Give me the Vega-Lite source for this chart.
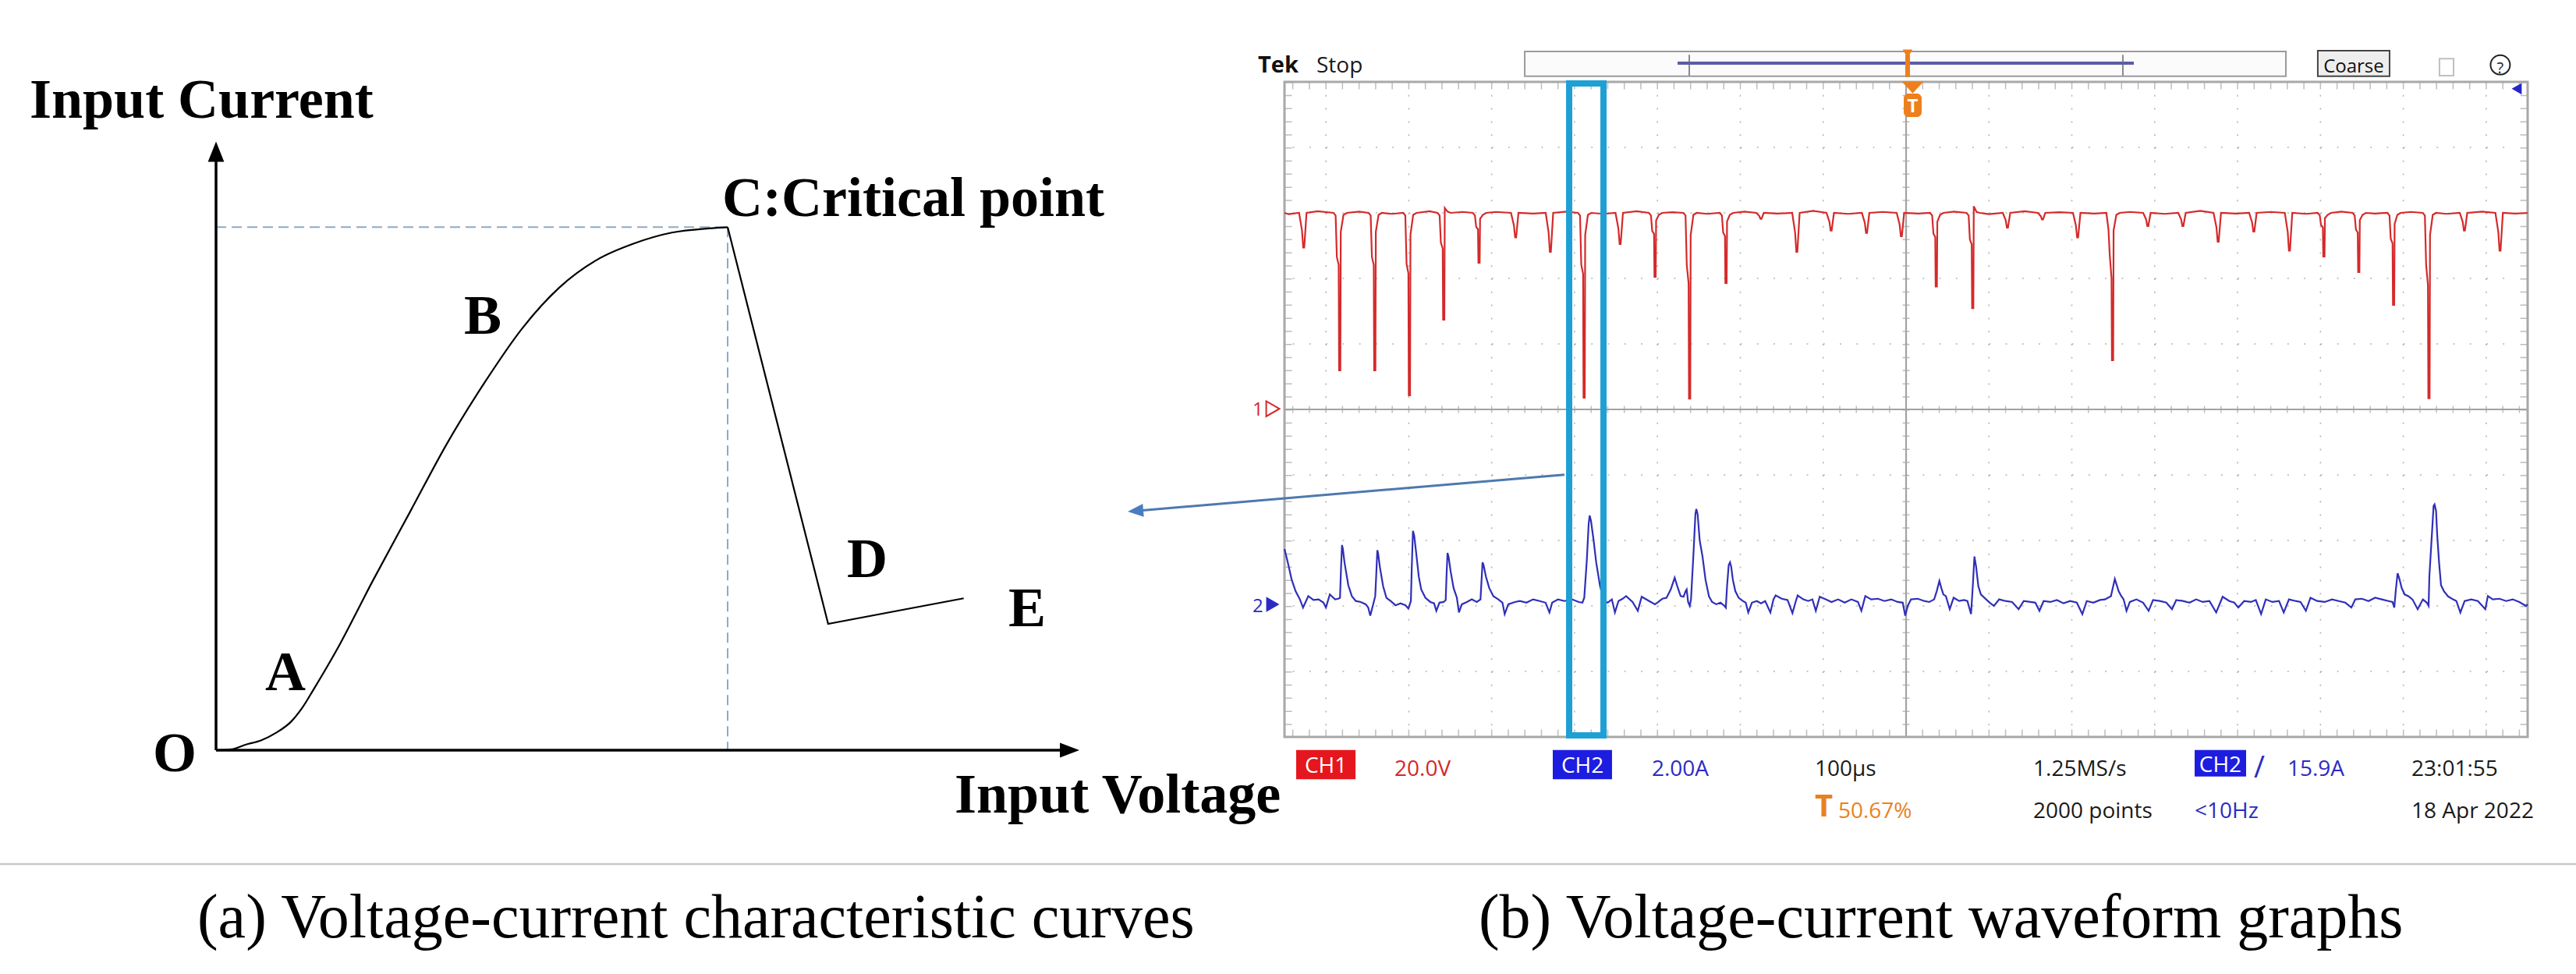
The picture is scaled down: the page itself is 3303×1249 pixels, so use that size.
{
"$schema":"https://vega.github.io/schema/vega-lite/v6.json",
"width":3303,"height":1249,"padding":0,"autosize":{"type":"none"},
"background":"#ffffff",
"config":{"view":{"stroke":null},"axis":{"disable":true},"legend":{"disable":true}},
"datasets":{
"sep":[{"i":-18.74}],
"curve":[{"v":0,"i":0},{"v":1.8,"i":0.15},{"v":3.4,"i":0.9},{"v":5.2,"i":1.6},{"v":7,"i":2.9},{"v":8.7,"i":4.7},{"v":10,"i":7},{"v":11.3,"i":10},{"v":13.9,"i":16.3},{"v":18.2,"i":28},{"v":22.5,"i":39.3},{"v":26.8,"i":50.6},{"v":31.1,"i":60.5},{"v":35.5,"i":69.5},{"v":39.8,"i":76.2},{"v":44.1,"i":80.7},{"v":48.4,"i":83.4},{"v":52.8,"i":85.2},{"v":57.1,"i":85.9},{"v":59.26,"i":86.1}],
"tail":[{"v":59.26,"i":86.1},{"v":70.9,"i":20.8},{"v":86.6,"i":25}],
"dashes":[{"v":0,"i":86.1,"v2":59.26,"i2":86.1},{"v":59.26,"i":86.1,"v2":59.26,"i2":0}],
"axesL":[{"v":0,"i":0,"v2":0,"i2":98},{"v":0,"i":0,"v2":98.5,"i2":0}],
"arrowY":[{"v":0,"i":100.2}],
"arrowX":[{"v":100,"i":0}],
"labelsL":[{"v":-21.59,"i":104.11,"label":"Input Current"},{"v":58.63,"i":87.93,"label":"C:Critical point"},{"v":-7.32,"i":-3.47,"label":"O"},{"v":5.69,"i":9.88,"label":"A"},{"v":28.73,"i":68.55,"label":"B"},{"v":73.08,"i":28.5,"label":"D"},{"v":91.78,"i":20.41,"label":"E"},{"v":85.55,"i":-10.27,"label":"Input Voltage"}],
"captionA":[{"v":-2.17,"i":-30.81,"label":"(a) Voltage-current characteristic curves"}],
"gridV":[{"t":-700,"v":100,"v2":-100},{"t":-600,"v":100,"v2":-100},{"t":-500,"v":100,"v2":-100},{"t":-400,"v":100,"v2":-100},{"t":-300,"v":100,"v2":-100},{"t":-200,"v":100,"v2":-100},{"t":-100,"v":100,"v2":-100},{"t":100,"v":100,"v2":-100},{"t":200,"v":100,"v2":-100},{"t":300,"v":100,"v2":-100},{"t":400,"v":100,"v2":-100},{"t":500,"v":100,"v2":-100},{"t":600,"v":100,"v2":-100},{"t":700,"v":100,"v2":-100}],
"gridH":[{"t":-740,"t2":740,"v":-80},{"t":-740,"t2":740,"v":-60},{"t":-740,"t2":740,"v":-40},{"t":-740,"t2":740,"v":-20},{"t":-740,"t2":740,"v":20},{"t":-740,"t2":740,"v":40},{"t":-740,"t2":740,"v":60},{"t":-740,"t2":740,"v":80}],
"centerLines":[{"t":0,"t2":0,"v":100,"v2":-100},{"t":-750,"t2":750,"v":0,"v2":0}],
"ticksH":[{"t":-740.7,"t2":740.7,"v":0,"v2":0},{"t":-740.7,"t2":740.7,"v":98.8,"v2":98.8},{"t":-740.7,"t2":740.7,"v":-98.8,"v2":-98.8}],
"ticksV":[{"t":0,"t2":0,"v":100,"v2":-100},{"t":-745.3,"t2":-745.3,"v":100,"v2":-100},{"t":745.3,"t2":745.3,"v":100,"v2":-100}],
"frame":[{"t":-750,"t2":750,"v":-100,"v2":100}],
"topBar":[{"t":-460.1,"t2":458.3,"v":109.3,"v2":101.7}],
"navy":[{"t":-275.7,"t2":274.8,"v":105.7,"v2":105.7}],
"brackets":[{"t":-261.6,"t2":-261.6,"v":108.3,"v2":101.9},{"t":261.6,"t2":261.6,"v":108.3,"v2":101.9}],
"orangeStem":[{"t":1.9,"t2":1.9,"v":108.3,"v2":101.5}],
"orangeTop":[{"t":1.9,"v":108.6}],
"trigTri":[{"t":8,"v":98.3}],
"trigBox":[{"t":-2.8,"t2":18.8,"v":96.4,"v2":89.3}],
"trigText":[{"t":8,"v":90.6,"label":"T"}],
"coarseBox":[{"t":496.8,"t2":583.4,"v":109.5,"v2":101.7}],
"coarseText":[{"t":540.1,"v":102.9,"label":"Coarse"}],
"shareIcon":[{"t":643.6,"t2":660.6,"v":107.1,"v2":101.9}],
"helpCircle":[{"t":717,"v":105.2}],
"helpText":[{"t":717,"v":102.7,"label":"?"}],
"blueMark":[{"t":736.8,"v":97.9}],
"tek":[{"t":-782,"v":102.9,"label":"Tek"}],
"scopeText":[{"t":-711.4,"v":102.9,"label":"Stop","ch":"k"},{"t":-617.3,"v":-111.9,"label":"20.0V","ch":"r"},{"t":-306.8,"v":-111.9,"label":"2.00A","ch":"b"},{"t":-110.1,"v":-111.9,"label":"100µs","ch":"k"},{"t":153.4,"v":-111.9,"label":"1.25MS/s","ch":"k"},{"t":460.1,"v":-111.9,"label":"15.9A","ch":"b"},{"t":609.8,"v":-111.9,"label":"23:01:55","ch":"k"},{"t":-81.9,"v":-124.8,"label":"50.67%","ch":"o"},{"t":153.4,"v":-124.8,"label":"2000 points","ch":"k"},{"t":348.2,"v":-124.8,"label":"<10Hz","ch":"b"},{"t":609.8,"v":-124.8,"label":"18 Apr 2022","ch":"k"}],
"bigT":[{"t":-110.1,"v":-124.3,"label":"T"}],
"slope":[{"t":419.7,"v":-112.4,"label":"/"}],
"boxes":[{"t":-735.9,"t2":-664.3,"v":-104,"v2":-112.9,"ch":"r"},{"t":-426.3,"t2":-354.8,"v":-104,"v2":-112.9,"ch":"b"},{"t":348.2,"t2":410.3,"v":-104,"v2":-112.1,"ch":"b"}],
"boxLabels":[{"t":-700.1,"v":-111,"label":"CH1"},{"t":-390.5,"v":-111,"label":"CH2"},{"t":379.2,"v":-110.6,"label":"CH2"}],
"ch1Label":[{"t":-788.5,"v":-1.9,"label":"1"}],
"ch1Mark":[{"t":-764.1,"v":0.2}],
"captionB":[{"t":-515.7,"v":-161.2,"label":"(b) Voltage-current waveform graphs"}],
"ch2Label":[{"t":-788.5,"a":-0.19,"label":"2"}],
"ch2Mark":[{"t":-764.1,"a":0.05}],
"cyanBox":[{"t":-406.5,"t2":-365.1,"v":-99.5,"v2":99.5}],
"arrowLine":[{"t":-935.3,"v":-31.12,"t2":-412.2,"v2":-19.95}],
"arrowHead":[{"t":-939.1,"v":-31.2}],
"ch1":[{"t":-750,"v":60},{"t":-745,"v":59.6},
{"t":-732.4,"v":60},{"t":-728.9,"v":54.7},{"t":-727.4,"v":49.4},{"t":-726.2,"v":49.4},{"t":-723.4,"v":60},
{"t":-710,"v":60.5},
{"t":-690.8,"v":60},{"t":-688.3,"v":59.2},{"t":-686.8,"v":46.5},{"t":-684.6,"v":44.1},{"t":-684.1,"v":11.9},{"t":-682.6,"v":11.9},{"t":-682.1,"v":54.2},{"t":-678.8,"v":59.4},{"t":-674.8,"v":60},
{"t":-660,"v":60.4},
{"t":-648.5,"v":60},{"t":-646,"v":59.2},{"t":-644.5,"v":46.5},{"t":-642.3,"v":44.1},{"t":-641.8,"v":11.9},{"t":-640.3,"v":11.9},{"t":-639.8,"v":54.2},{"t":-636.5,"v":59.4},{"t":-632.5,"v":60},
{"t":-620,"v":59.7},
{"t":-606.7,"v":60},{"t":-604.2,"v":59.2},{"t":-602.7,"v":44.4},{"t":-600.5,"v":41.6},{"t":-600,"v":4.3},{"t":-598.5,"v":4.3},{"t":-598,"v":53.3},{"t":-594.7,"v":59.4},{"t":-590.7,"v":60},
{"t":-575,"v":60.5},
{"t":-565.3,"v":60},{"t":-562.8,"v":59.2},{"t":-561.3,"v":50.9},{"t":-559.1,"v":49.2},{"t":-558.6,"v":27.4},{"t":-557.1,"v":27.4},{"t":-556.6,"v":61.5},{"t":-553.3,"v":60.4},{"t":-549.3,"v":60},
{"t":-535,"v":60.3},
{"t":-522.7,"v":60},{"t":-520.2,"v":59.2},{"t":-518.7,"v":55.7},{"t":-516.5,"v":55},{"t":-516,"v":44.8},{"t":-514.5,"v":44.8},{"t":-514,"v":58.2},{"t":-510.7,"v":59.4},{"t":-506.7,"v":60},
{"t":-495,"v":60.3},
{"t":-476.7,"v":60},{"t":-473.2,"v":56.2},{"t":-471.7,"v":52.5},{"t":-470.5,"v":52.5},{"t":-467.7,"v":60},
{"t":-450,"v":59.8},
{"t":-434.8,"v":60},{"t":-431.3,"v":54},{"t":-429.8,"v":48.1},{"t":-428.6,"v":48.1},{"t":-425.8,"v":60},
{"t":-410,"v":60.4},
{"t":-395.9,"v":60},{"t":-393.4,"v":59.2},{"t":-391.9,"v":44.2},{"t":-389.7,"v":41.4},{"t":-389.2,"v":3.6},{"t":-387.7,"v":3.6},{"t":-387.2,"v":53.2},{"t":-383.9,"v":59.4},{"t":-379.9,"v":60},
{"t":-365,"v":59.7},
{"t":-350.6,"v":60},{"t":-347.1,"v":55.2},{"t":-345.6,"v":50.5},{"t":-344.4,"v":50.5},{"t":-341.6,"v":60},
{"t":-325,"v":60.5},
{"t":-310.3,"v":60},{"t":-307.8,"v":59.2},{"t":-306.3,"v":54.5},{"t":-304.1,"v":53.6},{"t":-303.6,"v":40.5},{"t":-302.1,"v":40.5},{"t":-301.6,"v":57.7},{"t":-298.3,"v":59.4},{"t":-294.3,"v":60},
{"t":-282,"v":60.2},
{"t":-268.6,"v":60},{"t":-266.1,"v":59.2},{"t":-264.6,"v":44.1},{"t":-262.4,"v":38.5},{"t":-261.9,"v":3.3},{"t":-260.4,"v":3.3},{"t":-259.9,"v":53.2},{"t":-256.6,"v":59.4},{"t":-252.6,"v":60},
{"t":-240,"v":59.7},
{"t":-224.7,"v":60},{"t":-222.2,"v":59.2},{"t":-220.7,"v":54},{"t":-218.5,"v":52.9},{"t":-218,"v":38.6},{"t":-216.5,"v":38.6},{"t":-216,"v":57.4},{"t":-212.7,"v":59.4},{"t":-208.7,"v":60},
{"t":-195,"v":60.4},
{"t":-180.7,"v":60},{"t":-177.2,"v":59.1},{"t":-175.7,"v":58.2},{"t":-174.5,"v":58.2},{"t":-171.7,"v":60},
{"t":-155,"v":59.8},
{"t":-137.4,"v":60},{"t":-133.9,"v":54},{"t":-132.4,"v":48.1},{"t":-131.2,"v":48.1},{"t":-128.4,"v":60},
{"t":-112,"v":60.6},
{"t":-96,"v":60},{"t":-92.5,"v":57.3},{"t":-91,"v":54.6},{"t":-89.8,"v":54.6},{"t":-87,"v":60},
{"t":-70,"v":59.7},
{"t":-53.3,"v":60},{"t":-49.8,"v":57},{"t":-48.3,"v":53.9},{"t":-47.1,"v":53.9},{"t":-44.3,"v":60},
{"t":-28,"v":60.3},
{"t":-11.3,"v":60},{"t":-7.8,"v":56.5},{"t":-6.3,"v":52.9},{"t":-5.1,"v":52.9},{"t":-2.3,"v":60},
{"t":15,"v":59.8},
{"t":29,"v":60},{"t":31.5,"v":59.2},{"t":33,"v":53.7},{"t":35.2,"v":52.6},{"t":35.7,"v":37.5},{"t":37.2,"v":37.5},{"t":37.7,"v":57.3},{"t":41,"v":59.4},{"t":45,"v":60},
{"t":58,"v":60.4},
{"t":73,"v":60},{"t":75.5,"v":59.2},{"t":77,"v":51.9},{"t":79.2,"v":50.4},{"t":79.7,"v":30.9},{"t":81.2,"v":30.9},{"t":81.7,"v":62},{"t":85,"v":60.3},{"t":89,"v":60},
{"t":100,"v":59.6},
{"t":116.7,"v":60},{"t":120.2,"v":57.8},{"t":121.7,"v":55.5},{"t":122.9,"v":55.5},{"t":125.7,"v":60},
{"t":143,"v":60.5},
{"t":159,"v":60},{"t":162.5,"v":59},{"t":164,"v":58},{"t":165.2,"v":58},{"t":168,"v":60},
{"t":185,"v":60.2},
{"t":201.4,"v":60},{"t":204.9,"v":56.2},{"t":206.4,"v":52.5},{"t":207.6,"v":52.5},{"t":210.4,"v":60},
{"t":227,"v":59.8},
{"t":241.7,"v":60},{"t":244.2,"v":55},{"t":245.7,"v":47.4},{"t":247.9,"v":40},{"t":248.4,"v":15},{"t":249.9,"v":15},{"t":250.4,"v":54.6},{"t":253.7,"v":59.4},{"t":257.7,"v":60},
{"t":270,"v":60.3},
{"t":286.1,"v":60},{"t":289.6,"v":58},{"t":291.1,"v":56},{"t":292.3,"v":56},{"t":295.1,"v":60},
{"t":312,"v":59.7},
{"t":328.4,"v":60},{"t":331.9,"v":58},{"t":333.4,"v":56},{"t":334.6,"v":56},{"t":337.4,"v":60},
{"t":355,"v":60.6},
{"t":371,"v":60},{"t":374.5,"v":55.6},{"t":376,"v":51.2},{"t":377.2,"v":51.2},{"t":380,"v":60},
{"t":398,"v":59.8},
{"t":414,"v":60},{"t":417.5,"v":57.1},{"t":419,"v":54.3},{"t":420.2,"v":54.3},{"t":423,"v":60},
{"t":440,"v":60.3},
{"t":457,"v":60},{"t":460.5,"v":54.2},{"t":462,"v":48.5},{"t":463.2,"v":48.5},{"t":466,"v":60},
{"t":483,"v":59.7},
{"t":496.7,"v":60},{"t":499.2,"v":59.2},{"t":500.7,"v":56.3},{"t":502.9,"v":55.6},{"t":503.4,"v":46.7},{"t":504.9,"v":46.7},{"t":505.4,"v":58.4},{"t":508.7,"v":59.4},{"t":512.7,"v":60},
{"t":525,"v":60.4},
{"t":538.8,"v":60},{"t":541.3,"v":59.2},{"t":542.8,"v":54.9},{"t":545,"v":54},{"t":545.5,"v":41.9},{"t":547,"v":41.9},{"t":547.5,"v":57.8},{"t":550.8,"v":59.4},{"t":554.8,"v":60},
{"t":566,"v":59.8},
{"t":580.8,"v":60},{"t":583.3,"v":59.2},{"t":584.8,"v":52.1},{"t":587,"v":50.7},{"t":587.5,"v":31.9},{"t":589,"v":31.9},{"t":589.5,"v":56.6},{"t":592.8,"v":59.4},{"t":596.8,"v":60},
{"t":609,"v":60.3},
{"t":623.5,"v":60},{"t":626,"v":59.2},{"t":627.5,"v":44.2},{"t":629.7,"v":38},{"t":630.2,"v":3.4},{"t":631.7,"v":3.4},{"t":632.2,"v":53.2},{"t":635.5,"v":59.4},{"t":639.5,"v":60},
{"t":652,"v":59.7},
{"t":668.1,"v":60},{"t":671.6,"v":57.3},{"t":673.1,"v":54.6},{"t":674.3,"v":54.6},{"t":677.1,"v":60},
{"t":695,"v":60.4},
{"t":711.1,"v":60},{"t":714.6,"v":54.2},{"t":716.1,"v":48.5},{"t":717.3,"v":48.5},{"t":720.1,"v":60},
{"t":735,"v":59.8},{"t":750,"v":60}],
"ch2":[{"t":-750,"a":1.74},{"t":-746,"a":1.33},{"t":-741.3,"a":0.8},{"t":-736.6,"a":0.45},{"t":-731.4,"a":0.2},{"t":-727.6,"a":-0.05},{"t":-724,"a":0.15},{"t":-721.3,"a":0.3},{"t":-715,"a":0.18},{"t":-708.8,"a":0.2},{"t":-703,"a":0.1},{"t":-700,"a":-0.05},{"t":-695.3,"a":0.35},{"t":-689,"a":0.2},{"t":-685,"a":0.22},{"t":-683,"a":0.25},{"t":-682,"a":1.0},{"t":-680.6,"a":1.86},{"t":-679.6,"a":1.75},{"t":-677.6,"a":1.33},{"t":-673,"a":0.63},{"t":-668.6,"a":0.29},{"t":-664,"a":0.15},{"t":-658,"a":0.12},{"t":-652,"a":0.05},{"t":-649,"a":-0.05},{"t":-646.5,"a":-0.3},{"t":-643,"a":0.05},{"t":-640.5,"a":0.3},{"t":-639.2,"a":1.0},{"t":-638,"a":1.7},{"t":-637,"a":1.6},{"t":-635,"a":1.2},{"t":-631,"a":0.6},{"t":-627,"a":0.25},{"t":-622,"a":0.15},{"t":-616,"a":0.02},{"t":-610,"a":0.08},{"t":-604,"a":0.02},{"t":-600.5,"a":-0.08},{"t":-597.5,"a":0.15},{"t":-596.5,"a":1.1},{"t":-595,"a":2.29},{"t":-593.5,"a":2.15},{"t":-591,"a":1.6},{"t":-588,"a":0.9},{"t":-585,"a":0.5},{"t":-580,"a":0.25},{"t":-574,"a":0.12},{"t":-569.5,"a":0.08},{"t":-566.8,"a":-0.15},{"t":-563,"a":0.1},{"t":-558,"a":0.12},{"t":-555.5,"a":0.18},{"t":-554.5,"a":0.9},{"t":-553.3,"a":1.62},{"t":-552,"a":1.5},{"t":-549.5,"a":1.05},{"t":-546,"a":0.55},{"t":-542,"a":0.25},{"t":-539.5,"a":-0.2},{"t":-536,"a":0.05},{"t":-530,"a":0.12},{"t":-524,"a":0.2},{"t":-518,"a":0.12},{"t":-513.5,"a":0.2},{"t":-512.2,"a":0.8},{"t":-511,"a":1.33},{"t":-509.8,"a":1.25},{"t":-507,"a":0.9},{"t":-503,"a":0.55},{"t":-498,"a":0.3},{"t":-492,"a":0.2},{"t":-487,"a":0.1},{"t":-484.3,"a":-0.25},{"t":-480,"a":0.05},{"t":-472,"a":0.12},{"t":-466,"a":0.15},{"t":-458,"a":0.1},{"t":-450,"a":0.2},{"t":-442,"a":0.15},{"t":-435,"a":0.1},{"t":-430.3,"a":-0.2},{"t":-427,"a":0.1},{"t":-420,"a":0.2},{"t":-412,"a":0.15},{"t":-403,"a":0.2},{"t":-395,"a":0.12},{"t":-390.5,"a":0.1},{"t":-388.3,"a":0.25},{"t":-385.2,"a":1.4},{"t":-383,"a":2.5},{"t":-381.8,"a":2.76},{"t":-380.2,"a":2.6},{"t":-377,"a":2.0},{"t":-373.9,"a":1.33},{"t":-369.2,"a":0.6},{"t":-364.5,"a":0.15},{"t":-360,"a":0.1},{"t":-355,"a":0.2},{"t":-351.3,"a":-0.2},{"t":-347,"a":0.15},{"t":-342,"a":0.22},{"t":-337.8,"a":0.3},{"t":-330,"a":0.12},{"t":-323.7,"a":-0.15},{"t":-319,"a":0.28},{"t":-310,"a":0.15},{"t":-303,"a":0.05},{"t":-300.2,"a":0.1},{"t":-294,"a":0.22},{"t":-289,"a":0.25},{"t":-284,"a":0.5},{"t":-279.2,"a":0.86},{"t":-276,"a":0.6},{"t":-272,"a":0.3},{"t":-268.5,"a":0.28},{"t":-266,"a":0.45},{"t":-264.7,"a":0.5},{"t":-263,"a":0.12},{"t":-261,"a":0.0},{"t":-259.5,"a":0.2},{"t":-256.5,"a":1.6},{"t":-254.2,"a":2.8},{"t":-253.1,"a":2.96},{"t":-251.5,"a":2.8},{"t":-249,"a":2.0},{"t":-245.6,"a":1.51},{"t":-242,"a":0.8},{"t":-237.8,"a":0.29},{"t":-234,"a":0.12},{"t":-229,"a":0.05},{"t":-224,"a":0.1},{"t":-219,"a":0.0},{"t":-217.5,"a":-0.05},{"t":-216,"a":0.6},{"t":-214,"a":1.25},{"t":-212.4,"a":1.33},{"t":-211,"a":1.2},{"t":-209,"a":0.8},{"t":-206,"a":0.45},{"t":-202,"a":0.25},{"t":-197,"a":0.15},{"t":-193.5,"a":0.1},{"t":-190.4,"a":-0.2},{"t":-186,"a":0.1},{"t":-180,"a":0.15},{"t":-175,"a":0.08},{"t":-170,"a":0.15},{"t":-163.7,"a":-0.2},{"t":-160,"a":0.2},{"t":-157.4,"a":0.32},{"t":-150,"a":0.22},{"t":-143,"a":0.18},{"t":-137.1,"a":-0.22},{"t":-133,"a":0.15},{"t":-130.8,"a":0.32},{"t":-124,"a":0.2},{"t":-118,"a":0.15},{"t":-113,"a":0.2},{"t":-108.9,"a":-0.15},{"t":-104.2,"a":0.28},{"t":-97,"a":0.2},{"t":-90,"a":0.12},{"t":-82,"a":0.2},{"t":-74,"a":0.1},{"t":-66,"a":0.2},{"t":-58,"a":0.12},{"t":-53.9,"a":-0.15},{"t":-49.2,"a":0.3},{"t":-42,"a":0.2},{"t":-34,"a":0.22},{"t":-26,"a":0.15},{"t":-18,"a":0.2},{"t":-10,"a":0.12},{"t":-4,"a":0.1},{"t":-1,"a":-0.3},{"t":2,"a":0.0},{"t":6,"a":0.2},{"t":14,"a":0.22},{"t":22,"a":0.15},{"t":28,"a":0.12},{"t":33.9,"a":0.2},{"t":37,"a":0.45},{"t":40.2,"a":0.76},{"t":42.5,"a":0.55},{"t":45,"a":0.35},{"t":48,"a":0.3},{"t":52.7,"a":-0.1},{"t":57.4,"a":0.25},{"t":64,"a":0.15},{"t":70,"a":0.18},{"t":74,"a":0.15},{"t":78.4,"a":-0.25},{"t":80.5,"a":0.6},{"t":82.5,"a":1.51},{"t":84.5,"a":1.2},{"t":87.2,"a":0.6},{"t":90.3,"a":0.35},{"t":96.6,"a":0.2},{"t":101,"a":0.1},{"t":106.1,"a":0.0},{"t":112.3,"a":0.2},{"t":120,"a":0.15},{"t":128,"a":0.12},{"t":135.8,"a":-0.1},{"t":142,"a":0.15},{"t":150,"a":0.12},{"t":156,"a":0.1},{"t":160.9,"a":-0.15},{"t":166,"a":0.15},{"t":174,"a":0.12},{"t":182,"a":0.18},{"t":190,"a":0.08},{"t":198,"a":0.15},{"t":206,"a":0.1},{"t":212.7,"a":-0.25},{"t":218,"a":0.15},{"t":226,"a":0.1},{"t":234,"a":0.18},{"t":240,"a":0.2},{"t":247.2,"a":0.3},{"t":251.9,"a":0.82},{"t":254,"a":0.65},{"t":256.5,"a":0.45},{"t":259.7,"a":0.3},{"t":262.5,"a":0.2},{"t":266,"a":-0.15},{"t":270,"a":0.12},{"t":278,"a":0.2},{"t":286,"a":0.1},{"t":292.7,"a":-0.15},{"t":298,"a":0.18},{"t":306,"a":0.15},{"t":314,"a":0.1},{"t":320.9,"a":-0.1},{"t":326,"a":0.18},{"t":334,"a":0.15},{"t":342,"a":0.1},{"t":350,"a":0.2},{"t":358,"a":0.12},{"t":366,"a":0.15},{"t":374.2,"a":-0.2},{"t":382,"a":0.28},{"t":390,"a":0.15},{"t":396,"a":0.1},{"t":400.9,"a":-0.05},{"t":408,"a":0.15},{"t":416,"a":0.12},{"t":422,"a":0.18},{"t":428.4,"a":-0.25},{"t":434,"a":0.2},{"t":442,"a":0.12},{"t":450,"a":0.15},{"t":455.7,"a":-0.2},{"t":462,"a":0.2},{"t":470,"a":0.15},{"t":476,"a":0.12},{"t":482.4,"a":-0.15},{"t":488,"a":0.25},{"t":496,"a":0.15},{"t":505,"a":0.12},{"t":514,"a":0.2},{"t":522,"a":0.15},{"t":530,"a":0.1},{"t":537.3,"a":-0.05},{"t":542,"a":0.2},{"t":550,"a":0.22},{"t":558,"a":0.15},{"t":566,"a":0.25},{"t":574,"a":0.2},{"t":582,"a":0.15},{"t":587,"a":0.12},{"t":589.1,"a":-0.05},{"t":591,"a":0.5},{"t":593.1,"a":1.0},{"t":595,"a":0.85},{"t":598,"a":0.55},{"t":601.6,"a":0.35},{"t":606,"a":0.3},{"t":611,"a":0.2},{"t":617.3,"a":-0.1},{"t":623.6,"a":0.2},{"t":628.3,"a":0.1},{"t":630.5,"a":0.0},{"t":631.4,"a":0.9},{"t":634.5,"a":2.2},{"t":636.5,"a":3.05},{"t":637.7,"a":3.1},{"t":639.5,"a":2.9},{"t":640.8,"a":2.2},{"t":643.1,"a":1.33},{"t":645.5,"a":0.63},{"t":649,"a":0.45},{"t":654,"a":0.29},{"t":660,"a":0.2},{"t":664,"a":0.15},{"t":668.8,"a":-0.2},{"t":674,"a":0.15},{"t":682,"a":0.2},{"t":690,"a":0.15},{"t":698.9,"a":-0.1},{"t":702,"a":0.3},{"t":708,"a":0.2},{"t":716,"a":0.22},{"t":724,"a":0.15},{"t":732,"a":0.2},{"t":740,"a":0.12},{"t":748,"a":0.0},{"t":750,"a":0.05}]
},
"layer":[
{"data":{"name":"sep"},"mark":{"type":"rule","color":"#c8c8c8","strokeWidth":2.5},
 "encoding":{"y":{"field":"i","type":"quantitative","scale":{"domain":[0,100],"range":[962,183],"nice":false,"zero":false}}}},
{"encoding":{"x":{"field":"v","type":"quantitative","scale":{"domain":[0,100],"range":[277,1384],"nice":false,"zero":false}},
             "y":{"field":"i","type":"quantitative","scale":{"domain":[0,100],"range":[962,183],"nice":false,"zero":false}}},
 "layer":[
  {"data":{"name":"dashes"},"mark":{"type":"rule","color":"#8eaac6","strokeWidth":2,"strokeDash":[13,7]},"encoding":{"x2":{"field":"v2"},"y2":{"field":"i2"}}},
  {"data":{"name":"axesL"},"mark":{"type":"rule","color":"#000000","strokeWidth":3.5},"encoding":{"x2":{"field":"v2"},"y2":{"field":"i2"}}},
  {"data":{"name":"arrowY"},"mark":{"type":"point","shape":"M0,0L0.4,1L-0.4,1Z","size":2704,"filled":true,"color":"#000000","opacity":1,"strokeWidth":0}},
  {"data":{"name":"arrowX"},"mark":{"type":"point","shape":"M0,0L-1,-0.38L-1,0.38Z","size":2500,"filled":true,"color":"#000000","opacity":1,"strokeWidth":0}},
  {"data":{"name":"curve"},"mark":{"type":"line","color":"#000000","strokeWidth":2.2,"interpolate":"monotone"}},
  {"data":{"name":"tail"},"mark":{"type":"line","color":"#000000","strokeWidth":2.2}},
  {"data":{"name":"labelsL"},"mark":{"type":"text","font":"Liberation Serif","fontWeight":"bold","fontSize":72,"align":"left","baseline":"alphabetic","color":"#000000"},"encoding":{"text":{"field":"label"}}},
  {"data":{"name":"captionA"},"mark":{"type":"text","font":"Liberation Serif","fontSize":80,"align":"left","baseline":"alphabetic","color":"#000000"},"encoding":{"text":{"field":"label"}}}
 ]},
{"encoding":{"x":{"field":"t","type":"quantitative","scale":{"domain":[-750,750],"range":[1647,3241],"nice":false,"zero":false}},
             "y":{"field":"v","type":"quantitative","scale":{"domain":[-100,100],"range":[945,105],"nice":false,"zero":false}}},
 "layer":[
  {"data":{"name":"gridV"},"mark":{"type":"rule","color":"#b4b4b4","strokeWidth":1.6,"strokeDash":[2,14.8]},"encoding":{"y2":{"field":"v2"}}},
  {"data":{"name":"gridH"},"mark":{"type":"rule","color":"#b4b4b4","strokeWidth":1.6,"strokeDash":[2,19.254]},"encoding":{"x2":{"field":"t2"}}},
  {"data":{"name":"ticksH"},"mark":{"type":"rule","color":"#bdbdbd","strokeWidth":9,"strokeDash":[1.5,19.754]},"encoding":{"x2":{"field":"t2"},"y2":{"field":"v2"}}},
  {"data":{"name":"ticksV"},"mark":{"type":"rule","color":"#bdbdbd","strokeWidth":9,"strokeDash":[1.5,15.3]},"encoding":{"x2":{"field":"t2"},"y2":{"field":"v2"}}},
  {"data":{"name":"centerLines"},"mark":{"type":"rule","color":"#a2a2a2","strokeWidth":2.2},"encoding":{"x2":{"field":"t2"},"y2":{"field":"v2"}}},
  {"data":{"name":"frame"},"mark":{"type":"rect","fillOpacity":0,"stroke":"#a8a8a8","strokeWidth":3},"encoding":{"x2":{"field":"t2"},"y2":{"field":"v2"}}},
  {"data":{"name":"ch1"},"mark":{"type":"line","color":"#d42a2a","strokeWidth":2.2}},
  {"data":{"name":"topBar"},"mark":{"type":"rect","fill":"#fbfbfb","stroke":"#9a9a9a","strokeWidth":2},"encoding":{"x2":{"field":"t2"},"y2":{"field":"v2"}}},
  {"data":{"name":"navy"},"mark":{"type":"rule","color":"#5c5ca8","strokeWidth":4},"encoding":{"x2":{"field":"t2"},"y2":{"field":"v2"}}},
  {"data":{"name":"brackets"},"mark":{"type":"rule","color":"#666666","strokeWidth":1.5},"encoding":{"x2":{"field":"t2"},"y2":{"field":"v2"}}},
  {"data":{"name":"orangeStem"},"mark":{"type":"rule","color":"#ee7f1d","strokeWidth":6},"encoding":{"x2":{"field":"t2"},"y2":{"field":"v2"}}},
  {"data":{"name":"orangeTop"},"mark":{"type":"point","shape":"triangle-down","size":160,"filled":true,"color":"#ee7f1d","opacity":1}},
  {"data":{"name":"trigTri"},"mark":{"type":"point","shape":"M-1,-0.55L1,-0.55L0,0.55Z","size":784,"filled":true,"color":"#ee7f1d","opacity":1}},
  {"data":{"name":"trigBox"},"mark":{"type":"rect","fill":"#ee7f1d","cornerRadius":6},"encoding":{"x2":{"field":"t2"},"y2":{"field":"v2"}}},
  {"data":{"name":"trigText"},"mark":{"type":"text","font":"Open Sans","fontWeight":"bold","fontSize":24,"align":"center","baseline":"alphabetic","color":"#ffffff"},"encoding":{"text":{"field":"label"}}},
  {"data":{"name":"coarseBox"},"mark":{"type":"rect","fill":"#eeeeee","stroke":"#444444","strokeWidth":2},"encoding":{"x2":{"field":"t2"},"y2":{"field":"v2"}}},
  {"data":{"name":"coarseText"},"mark":{"type":"text","font":"Open Sans","fontSize":24,"align":"center","baseline":"alphabetic","color":"#111111"},"encoding":{"text":{"field":"label"}}},
  {"data":{"name":"shareIcon"},"mark":{"type":"rect","fillOpacity":0,"stroke":"#c0c0c0","strokeWidth":2},"encoding":{"x2":{"field":"t2"},"y2":{"field":"v2"}}},
  {"data":{"name":"helpCircle"},"mark":{"type":"point","shape":"circle","size":620,"filled":false,"color":"#222222","strokeWidth":2,"opacity":1}},
  {"data":{"name":"helpText"},"mark":{"type":"text","font":"Open Sans","fontSize":20,"align":"center","baseline":"alphabetic","color":"#222222"},"encoding":{"text":{"field":"label"}}},
  {"data":{"name":"blueMark"},"mark":{"type":"point","shape":"triangle-left","size":220,"filled":true,"color":"#2626c8","opacity":1}},
  {"data":{"name":"tek"},"mark":{"type":"text","font":"Open Sans","fontWeight":"bold","fontSize":29,"align":"left","baseline":"alphabetic","color":"#111111"},"encoding":{"text":{"field":"label"}}},
  {"data":{"name":"boxes"},"mark":{"type":"rect"},"encoding":{"x2":{"field":"t2"},"y2":{"field":"v2"},"fill":{"field":"ch","type":"nominal","scale":{"domain":["r","b"],"range":["#e5161d","#1d1de0"]},"legend":null}}},
  {"data":{"name":"boxLabels"},"mark":{"type":"text","font":"Open Sans","fontSize":28,"align":"center","baseline":"alphabetic","color":"#ffffff"},"encoding":{"text":{"field":"label"}}},
  {"data":{"name":"scopeText"},"mark":{"type":"text","font":"Open Sans","fontSize":28,"align":"left","baseline":"alphabetic"},"encoding":{"text":{"field":"label"},"color":{"field":"ch","type":"nominal","scale":{"domain":["k","r","b","o"],"range":["#1a1a1a","#d4282c","#2b2bc4","#e8821e"]},"legend":null}}},
  {"data":{"name":"bigT"},"mark":{"type":"text","font":"Open Sans","fontWeight":"bold","fontSize":40,"align":"left","baseline":"alphabetic","color":"#e8821e"},"encoding":{"text":{"field":"label"}}},
  {"data":{"name":"slope"},"mark":{"type":"text","font":"Open Sans","fontSize":38,"align":"left","baseline":"alphabetic","color":"#2b2bc4"},"encoding":{"text":{"field":"label"}}},
  {"data":{"name":"ch1Label"},"mark":{"type":"text","font":"Open Sans","fontSize":24,"align":"left","baseline":"alphabetic","color":"#d4282c"},"encoding":{"text":{"field":"label"}}},
  {"data":{"name":"ch1Mark"},"mark":{"type":"point","shape":"triangle-right","size":380,"filled":false,"color":"#d4282c","strokeWidth":2,"opacity":1}},
  {"data":{"name":"captionB"},"mark":{"type":"text","font":"Liberation Serif","fontSize":80,"align":"left","baseline":"alphabetic","color":"#000000"},"encoding":{"text":{"field":"label"}}}
 ]},
{"encoding":{"x":{"field":"t","type":"quantitative","scale":{"domain":[-750,750],"range":[1647,3241],"nice":false,"zero":false}},
             "y":{"field":"a","type":"quantitative","scale":{"domain":[-4,16],"range":[945,105],"nice":false,"zero":false}}},
 "layer":[
  {"data":{"name":"ch2"},"mark":{"type":"line","color":"#2f2fb8","strokeWidth":2.2}},
  {"data":{"name":"ch2Label"},"mark":{"type":"text","font":"Open Sans","fontSize":24,"align":"left","baseline":"alphabetic","color":"#2b2bc4"},"encoding":{"text":{"field":"label"}}},
  {"data":{"name":"ch2Mark"},"mark":{"type":"point","shape":"triangle-right","size":380,"filled":true,"color":"#2b2bc4","opacity":1}}
 ]},
{"encoding":{"x":{"field":"t","type":"quantitative","scale":{"domain":[-750,750],"range":[1647,3241],"nice":false,"zero":false}},
             "y":{"field":"v","type":"quantitative","scale":{"domain":[-100,100],"range":[945,105],"nice":false,"zero":false}}},
 "layer":[
  {"data":{"name":"cyanBox"},"mark":{"type":"rect","fillOpacity":0,"stroke":"#1ea0d5","strokeWidth":8},"encoding":{"x2":{"field":"t2"},"y2":{"field":"v2"}}},
  {"data":{"name":"arrowLine"},"mark":{"type":"rule","color":"#4d79ad","strokeWidth":3},"encoding":{"x2":{"field":"t2"},"y2":{"field":"v2"}}},
  {"data":{"name":"arrowHead"},"mark":{"type":"point","shape":"M0,0L1,-0.42L1,0.42Z","size":1600,"angle":-4.8,"filled":true,"color":"#4a7cc0","opacity":1,"strokeWidth":0}}
 ]}
],
"resolve":{"scale":{"x":"independent","y":"independent","color":"independent","fill":"independent"}}
}
